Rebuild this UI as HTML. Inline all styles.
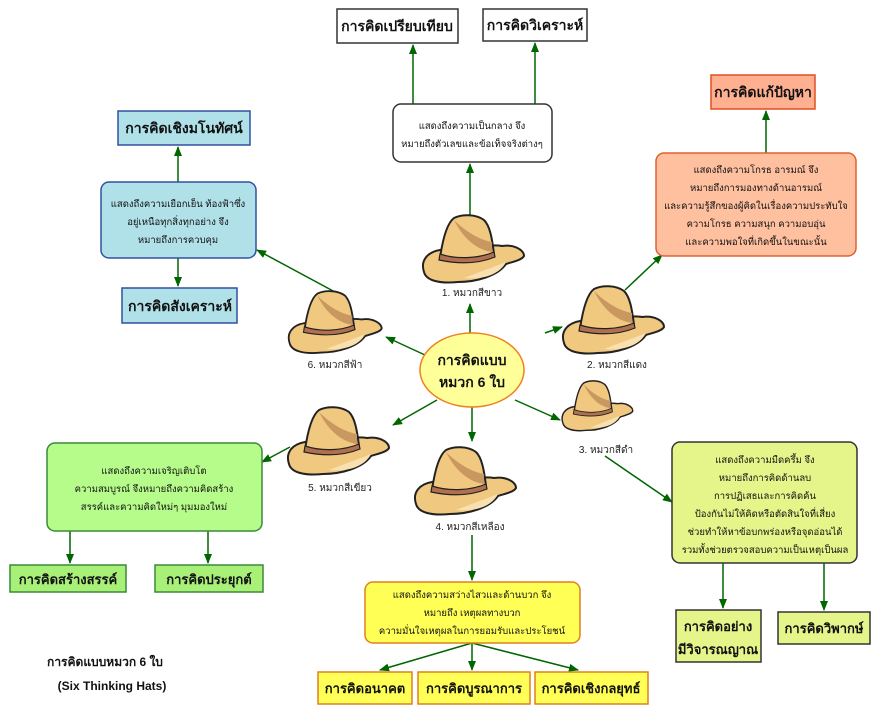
<!DOCTYPE html>
<html><head><meta charset="utf-8"><style>
body{margin:0;background:#fff}
svg text{font-family:"Liberation Sans","Noto Sans CJK SC",sans-serif}
</style></head><body>
<svg width="886" height="712" viewBox="0 0 886 712" xmlns="http://www.w3.org/2000/svg">
<defs>
<marker id="a" markerWidth="10" markerHeight="8" refX="9" refY="4" orient="auto" markerUnits="userSpaceOnUse"><path d="M0,0 L10,4 L0,8 Z" fill="#006600"/></marker>
<g id="hat">
<path d="M4,58 C0,46 8,38 20,36 C26,34 72,30 82,32 C94,30 104,36 104,42 C102,46 92,48 86,50 C78,62 56,68 38,68 C18,70 6,66 4,58 Z" fill="#f0c880" stroke="#222" stroke-width="2"/>
<path d="M20,44 C22,30 26,10 34,4 C42,0 56,0 64,6 C70,12 72,24 74,40 C60,46 36,48 20,44 Z" fill="#f0c880" stroke="#222" stroke-width="2"/>
<path d="M34,6 C46,18 60,26 72,28 L72,38 C58,36 44,26 34,6 Z" fill="#c89860"/>
<path d="M20,40 C38,46 60,44 74,38 L75,43 C58,50 38,50 19,46 Z" fill="#b07050" stroke="#222" stroke-width="1.2"/>
<path d="M44,64 C60,58 76,52 86,48 C80,60 64,66 44,64 Z" fill="#f8e0b0"/>
</g>
</defs>
<g stroke="#006600" stroke-width="1.5" fill="none">
<line x1="413" y1="104" x2="413" y2="45" marker-end="url(#a)"/>
<line x1="535" y1="104" x2="535" y2="43" marker-end="url(#a)"/>
<line x1="470" y1="215" x2="470" y2="164" marker-end="url(#a)"/>
<line x1="470" y1="333" x2="470" y2="304" marker-end="url(#a)"/>
<line x1="766" y1="153" x2="766" y2="111" marker-end="url(#a)"/>
<line x1="545" y1="333" x2="562" y2="327" marker-end="url(#a)"/>
<line x1="625" y1="290" x2="662" y2="255" marker-end="url(#a)"/>
<line x1="515" y1="400" x2="560" y2="420" marker-end="url(#a)"/>
<line x1="605" y1="456" x2="672" y2="502" marker-end="url(#a)"/>
<line x1="723" y1="563" x2="723" y2="608" marker-end="url(#a)"/>
<line x1="824" y1="563" x2="824" y2="610" marker-end="url(#a)"/>
<line x1="472" y1="407" x2="472" y2="441" marker-end="url(#a)"/>
<line x1="472" y1="535" x2="472" y2="580" marker-end="url(#a)"/>
<line x1="472" y1="643" x2="380" y2="670" marker-end="url(#a)"/>
<line x1="472" y1="643" x2="472" y2="670" marker-end="url(#a)"/>
<line x1="472" y1="643" x2="578" y2="670" marker-end="url(#a)"/>
<line x1="437" y1="400" x2="393" y2="425" marker-end="url(#a)"/>
<line x1="290" y1="447" x2="262" y2="462" marker-end="url(#a)"/>
<line x1="70" y1="531" x2="70" y2="563" marker-end="url(#a)"/>
<line x1="208" y1="531" x2="208" y2="563" marker-end="url(#a)"/>
<line x1="425" y1="355" x2="386" y2="337" marker-end="url(#a)"/>
<line x1="335" y1="292" x2="257" y2="250" marker-end="url(#a)"/>
<line x1="178" y1="182" x2="178" y2="147" marker-end="url(#a)"/>
<line x1="178" y1="258" x2="178" y2="286" marker-end="url(#a)"/>
</g>
<use href="#hat" x="420" y="214"/>
<use href="#hat" x="560" y="285"/>
<use href="#hat" transform="translate(560,380) scale(0.7,0.74)"/>
<use href="#hat" x="412" y="446"/>
<use href="#hat" x="285" y="406"/>
<use href="#hat" transform="translate(286,290) scale(0.92,0.92)"/>
<g font-size="10" fill="#222" text-anchor="middle">
<text x="472" y="296">1. หมวกสีขาว</text>
<text x="617" y="368">2. หมวกสีแดง</text>
<text x="606" y="453">3. หมวกสีดำ</text>
<text x="470" y="530">4. หมวกสีเหลือง</text>
<text x="340" y="491">5. หมวกสีเขียว</text>
<text x="335" y="368">6. หมวกสีฟ้า</text>
</g>
<ellipse cx="472" cy="370" rx="52" ry="37" fill="#ffff99" stroke="#f08020" stroke-width="1.5"/>
<g font-weight="bold" font-size="14" text-anchor="middle" fill="#111">
<text x="472" y="365">การคิดแบบ</text>
<text x="472" y="387">หมวก 6 ใบ</text>
</g>
<g stroke-width="1.5">
<rect x="337" y="9" width="121" height="34" fill="#fff" stroke="#333"/>
<rect x="483" y="9" width="104" height="32" fill="#fff" stroke="#333"/>
<rect x="393" y="104" width="159" height="58" rx="8" fill="#fff" stroke="#333"/>
<rect x="711" y="75" width="104" height="34" fill="#ffb090" stroke="#e05020"/>
<rect x="656" y="153" width="200" height="103" rx="8" fill="#ffc0a0" stroke="#e06030"/>
<rect x="672" y="442" width="185" height="121" rx="8" fill="#e5f58a" stroke="#333"/>
<rect x="676" y="610" width="85" height="52" fill="#e5f58a" stroke="#333"/>
<rect x="778" y="612" width="92" height="32" fill="#e5f58a" stroke="#333"/>
<rect x="365" y="582" width="215" height="61" rx="8" fill="#ffff55" stroke="#e08020"/>
<rect x="318" y="672" width="94" height="32" fill="#ffff55" stroke="#e08020"/>
<rect x="418" y="672" width="112" height="32" fill="#ffff55" stroke="#e08020"/>
<rect x="535" y="672" width="113" height="32" fill="#ffff55" stroke="#e08020"/>
<rect x="47" y="443" width="215" height="88" rx="8" fill="#b6fc8a" stroke="#3a8a3a"/>
<rect x="10" y="565" width="116" height="27" fill="#a8f078" stroke="#3a8a3a"/>
<rect x="155" y="565" width="108" height="27" fill="#a8f078" stroke="#3a8a3a"/>
<rect x="101" y="182" width="155" height="76" rx="8" fill="#b0e0e8" stroke="#3050a0"/>
<rect x="118" y="111" width="132" height="34" fill="#b0e0e8" stroke="#3050a0"/>
<rect x="122" y="288" width="115" height="35" fill="#b0e0e8" stroke="#3050a0"/>
</g>
<g font-weight="bold" font-size="14" text-anchor="middle" fill="#111">
<text x="397" y="31">การคิดเปรียบเทียบ</text>
<text x="535" y="30">การคิดวิเคราะห์</text>
<text x="763" y="97">การคิดแก้ปัญหา</text>
<text x="718" y="631" font-size="13">การคิดอย่าง</text>
<text x="718" y="654" font-size="13">มีวิจารณญาณ</text>
<text x="824" y="633" font-size="13">การคิดวิพากษ์</text>
<text x="365" y="693" font-size="13">การคิดอนาคต</text>
<text x="474" y="693" font-size="13">การคิดบูรณาการ</text>
<text x="591" y="693" font-size="13">การคิดเชิงกลยุทธ์</text>
<text x="68" y="584" font-size="13">การคิดสร้างสรรค์</text>
<text x="209" y="584" font-size="13">การคิดประยุกต์</text>
<text x="184" y="133">การคิดเชิงมโนทัศน์</text>
<text x="180" y="311">การคิดสังเคราะห์</text>
</g>
<g font-size="9.5" text-anchor="middle" fill="#111">
<text x="472" y="129">แสดงถึงความเป็นกลาง จึง</text>
<text x="472" y="147">หมายถึงตัวเลขและข้อเท็จจริงต่างๆ</text>
<text x="756" y="173">แสดงถึงความโกรธ อารมณ์ จึง</text>
<text x="756" y="191">หมายถึงการมองทางด้านอารมณ์</text>
<text x="756" y="209">และความรู้สึกของผู้คิดในเรื่องความประทับใจ</text>
<text x="756" y="227">ความโกรธ ความสนุก ความอบอุ่น</text>
<text x="756" y="245">และความพอใจที่เกิดขึ้นในขณะนั้น</text>
<text x="765" y="463">แสดงถึงความมืดครึ้ม จึง</text>
<text x="765" y="481">หมายถึงการคิดด้านลบ</text>
<text x="765" y="499">การปฏิเสธและการคิดค้น</text>
<text x="765" y="517">ป้องกันไม่ให้คิดหรือตัดสินใจที่เสี่ยง</text>
<text x="765" y="535">ช่วยทำให้หาข้อบกพร่องหรือจุดอ่อนได้</text>
<text x="765" y="553">รวมทั้งช่วยตรวจสอบความเป็นเหตุเป็นผล</text>
<text x="472" y="598">แสดงถึงความสว่างไสวและด้านบวก จึง</text>
<text x="472" y="616">หมายถึง เหตุผลทางบวก</text>
<text x="472" y="634">ความมั่นใจเหตุผลในการยอมรับและประโยชน์</text>
<text x="154" y="474">แสดงถึงความเจริญเติบโต</text>
<text x="154" y="492">ความสมบูรณ์ จึงหมายถึงความคิดสร้าง</text>
<text x="154" y="510">สรรค์และความคิดใหม่ๆ มุมมองใหม่</text>
<text x="178" y="207">แสดงถึงความเยือกเย็น ท้องฟ้าซึ่ง</text>
<text x="178" y="225">อยู่เหนือทุกสิ่งทุกอย่าง จึง</text>
<text x="178" y="243">หมายถึงการควบคุม</text>
</g>
<g font-weight="bold" font-size="12" text-anchor="middle" fill="#111">
<text x="105" y="666">การคิดแบบหมวก 6 ใบ</text>
<text x="112" y="690">(Six Thinking Hats)</text>
</g>
</svg>
</body></html>
